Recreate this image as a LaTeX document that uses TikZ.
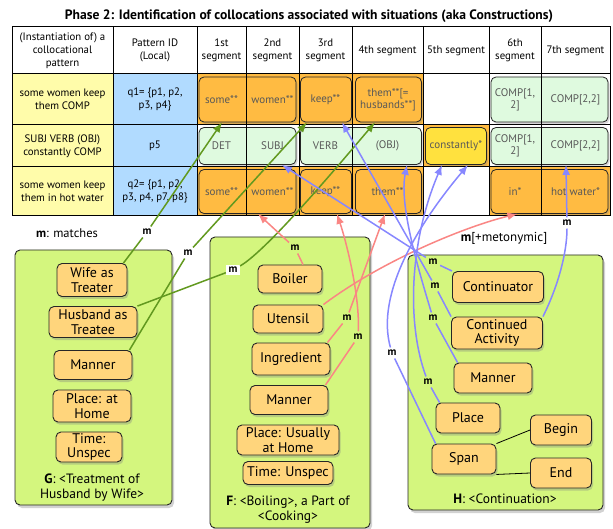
\documentclass[tikz,border=0pt]{standalone}
\usepackage{fontspec}
\setmainfont{PT Sans}
\usepackage{tikz}
\usetikzlibrary{arrows.meta,positioning,shadows}
\definecolor{panel}{HTML}{D4F67E}
\definecolor{slot}{HTML}{FFD57C}
\definecolor{seg}{HTML}{FFBB42}
\definecolor{mint}{HTML}{DFFADF}
\definecolor{lemon}{HTML}{FFFCAA}
\definecolor{sky}{HTML}{B1DBFF}
\definecolor{gold}{HTML}{FFE13E}
\definecolor{gline}{HTML}{62991F}
\definecolor{rline}{HTML}{FA8684}
\definecolor{bline}{HTML}{8787FF}
\definecolor{segtext}{HTML}{585858}
\tikzset{panelbox/.style={draw=black!85,fill=panel,rounded corners=5pt,line width=0.9pt,drop shadow={opacity=0.35,shadow xshift=2pt,shadow yshift=-3pt}},
slotbox/.style={draw=black!85,fill=slot,rounded corners=5pt,line width=0.9pt,align=center,font=\fontsize{14}{14.5}\selectfont,inner sep=1pt,drop shadow={opacity=0.35,shadow xshift=1.5pt,shadow yshift=-2.5pt}},
segbox/.style={draw=black!85,rounded corners=5pt,line width=0.8pt,inner sep=0pt,drop shadow={opacity=0.3,shadow xshift=1.5pt,shadow yshift=-2pt}},
segtxt/.style={align=center,text=segtext,font=\fontsize{11}{12}\selectfont,inner sep=1pt},
head/.style={align=center,font=\fontsize{10.8}{13}\selectfont,inner sep=1pt},
mlab/.style={font=\bfseries\fontsize{11}{12}\selectfont,fill=white,inner sep=2.5pt},
gl/.style={line width=1.5pt,draw=gline},garr/.style={gl,-{Latex[length=10pt,width=8pt]}},
rl/.style={line width=1.5pt,draw=rline},rarr/.style={rl,-{Latex[length=10pt,width=8pt]}},
bl/.style={line width=1.5pt,draw=bline},barr/.style={bl,-{Latex[length=10pt,width=8pt]}}}
\begin{document}
\begin{tikzpicture}[x=1pt,y=-1pt]
\fill[white] (0,0) rectangle (613,529);
\useasboundingbox (0,0) rectangle (613,529);
\node[font=\bfseries\fontsize{13.6}{15}\selectfont] (title) at (309,16) {Phase 2: Identification of collocations associated with situations (aka Constructions)};
\fill[lemon] (12,74) rectangle (113,216);
\fill[sky] (113,74) rectangle (197,216);
\fill[seg] (197,74) rectangle (423,125);
\fill[seg] (423,125) rectangle (489,167);
\fill[seg] (197,167) rectangle (423,216);
\fill[seg] (489,167) rectangle (610,216);
\node[segbox,fill=seg,minimum width=97pt,minimum height=45pt] (r1a) at (247.5,99.5) {};
\node[segbox,fill=seg,minimum width=51pt,minimum height=45pt] (r1b) at (326,99.5) {};
\node[segbox,fill=seg,minimum width=66pt,minimum height=45pt] (r1c) at (388.5,99.5) {};
\node[segbox,fill=mint,minimum width=117pt,minimum height=45pt] (r1d) at (549.5,99.5) {};
\node[segbox,fill=mint,minimum width=97pt,minimum height=37pt] (r2a) at (247.5,146) {};
\node[segbox,fill=mint,minimum width=121pt,minimum height=37pt] (r2b) at (361,146) {};
\node[segbox,fill=gold,minimum width=61pt,minimum height=37pt] (r2c) at (456,146) {};
\node[segbox,fill=mint,minimum width=117pt,minimum height=37pt] (r2d) at (549.5,146) {};
\node[segbox,fill=seg,minimum width=97pt,minimum height=44pt] (r3a) at (247.5,191.5) {};
\node[segbox,fill=seg,minimum width=51pt,minimum height=44pt] (r3b) at (326,191.5) {};
\node[segbox,fill=seg,minimum width=66pt,minimum height=44pt] (r3c) at (388.5,191.5) {};
\node[segbox,fill=seg,minimum width=117pt,minimum height=44pt] (r3d) at (549.5,191.5) {};
\draw[line width=1pt] (12,27) rectangle (610,216);
\draw[line width=1pt] (12,74) -- (610,74) (12,125) -- (610,125) (12,167) -- (610,167);
\draw[line width=1pt] (113,27) -- (113,216) (197,27) -- (197,216) (246,27) -- (246,216) (299,27) -- (299,216) (352,27) -- (352,216) (423,27) -- (423,216) (489,27) -- (489,216) (541,27) -- (541,216);
\node[head] (hpat) at (62.5,50.5) {(Instantiation of) a\\collocational\\pattern};
\node[head] (hid) at (155,50.5) {Pattern ID\\(Local)};
\node[head] (hs1) at (221.5,50.5) {1st\\segment};
\node[head] (hs2) at (272.5,50.5) {2nd\\segment};
\node[head] (hs3) at (325.5,50.5) {3rd\\segment};
\node[head] (hs4) at (387.5,50.5) {4th segment};
\node[head] (hs5) at (456,50.5) {5th segment};
\node[head] (hs6) at (515,50.5) {6th\\segment};
\node[head] (hs7) at (575.5,50.5) {7th segment};
\node[head] (q1pat) at (62.5,99.5) {some women keep\\them COMP};
\node[head] (q1id) at (155,99.5) {q1= \{p1, p2,\\p3, p4\}};
\node[head] (p5pat) at (62.5,146) {SUBJ VERB (OBJ)\\constantly COMP};
\node[head] (p5id) at (155,146) {p5};
\node[head] (q2pat) at (62.5,191.5) {some women keep\\them in hot water};
\node[head] (q2id) at (155,191.5) {q2= \{p1, p2,\\p3, p4, p7, p8\}};
\node[segtxt] (t11) at (221.5,99.5) {some**};
\node[segtxt] (t12) at (272.5,99.5) {women**};
\node[segtxt] (t13) at (325.5,99.5) {keep**};
\node[segtxt] (t14) at (388,99.5) {them**[=\\husbands**]};
\node[segtxt] (t16) at (515,99.5) {COMP[1,\\2]};
\node[segtxt] (t17) at (575.5,99.5) {COMP[2,2]};
\node[segtxt] (t21) at (221.5,146) {DET};
\node[segtxt] (t22) at (272.5,146) {SUBJ};
\node[segtxt] (t23) at (325.5,146) {VERB};
\node[segtxt] (t24) at (387.5,146) {(OBJ)};
\node[segtxt] (t25) at (456,146) {constantly*};
\node[segtxt] (t26) at (515,146) {COMP[1,\\2]};
\node[segtxt] (t27) at (575.5,146) {COMP[2,2]};
\node[segtxt] (t31) at (221.5,191.5) {some**};
\node[segtxt] (t32) at (272.5,191.5) {women**};
\node[segtxt] (t33) at (325.5,191.5) {keep**};
\node[segtxt] (t34) at (387.5,191.5) {them**};
\node[segtxt] (t36) at (515,191.5) {in*};
\node[segtxt] (t37) at (575.5,191.5) {hot water*};
\node[font=\fontsize{12.5}{14}\selectfont] (key) at (67,233) {\textbf{m}: matches};
\node[panelbox,minimum width=157pt,minimum height=255pt] (gframe) at (93.5,377.5) {};
\node[panelbox,minimum width=160pt,minimum height=291pt] (fframe) at (290,382.5) {};
\node[panelbox,minimum width=195pt,minimum height=255pt] (hframe) at (505.5,382.5) {};
\node[slotbox,minimum width=70pt,minimum height=33pt] (gWife) at (92,280) {Wife as\\Treater};
\node[slotbox,minimum width=88pt,minimum height=31pt] (gHusband) at (93,322) {Husband as\\Treatee};
\node[slotbox,minimum width=78pt,minimum height=29pt] (gManner) at (93,365) {Manner};
\node[slotbox,minimum width=78pt,minimum height=32pt] (gPlace) at (92,406) {Place: at\\Home};
\node[slotbox,minimum width=66pt,minimum height=30pt] (gTime) at (89,447) {Time:\\Unspec};
\node[align=center,font=\fontsize{13.5}{15}\selectfont] (gname) at (92,488) {\textbf{G}: <Treatment of\\Husband by Wife>};
\node[slotbox,minimum width=64pt,minimum height=28pt] (fBoiler) at (290,279) {Boiler};
\node[slotbox,minimum width=70pt,minimum height=28pt] (fUtensil) at (288,319) {Utensil};
\node[slotbox,minimum width=78pt,minimum height=32pt] (fIngredient) at (291,359) {Ingredient};
\node[slotbox,minimum width=78pt,minimum height=29pt] (fManner) at (289,400) {Manner};
\node[slotbox,minimum width=102pt,minimum height=30pt] (fPlace) at (288,440) {Place: Usually\\at Home};
\node[slotbox,minimum width=90pt,minimum height=23pt] (fTime) at (288,473) {Time: Unspec};
\node[align=center,font=\fontsize{13.5}{15}\selectfont] (fname) at (288,510) {\textbf{F}: <Boiling>, a Part of\\<Cooking>};
\node[slotbox,minimum width=91pt,minimum height=31pt] (hCont) at (498,287) {Continuator};
\node[slotbox,minimum width=91pt,minimum height=32pt] (hAct) at (497,333) {Continued\\Activity};
\node[slotbox,minimum width=78pt,minimum height=30pt] (hManner) at (493,378) {Manner};
\node[slotbox,minimum width=64pt,minimum height=30pt] (hPlace) at (468,418) {Place};
\node[slotbox,minimum width=64pt,minimum height=30pt] (hSpan) at (464,459) {Span};
\node[slotbox,minimum width=61pt,minimum height=30pt] (hBegin) at (561,430) {Begin};
\node[slotbox,minimum width=61pt,minimum height=30pt] (hEnd) at (561,473) {End};
\node[font=\fontsize{13.5}{15}\selectfont] (hname) at (505,499) {\textbf{H}: <Continuation>};
\draw[line width=0.8pt] (hSpan.north east) -- (hBegin.west);
\draw[line width=0.8pt] (hSpan.south east) -- (hEnd.west);
\node[mlab] (mg1) at (147,232) {m};
\node[mlab] (mg2) at (233,270) {m};
\node[mlab] (mg3) at (188,253) {m};
\node[mlab,fill=panel] (mf1) at (295,248) {m};
\node[mlab,fill=panel] (mf2) at (347,318) {m};
\node[mlab,fill=panel] (mf3) at (358,337) {m};
\node[mlab,fill=panel] (mh1) at (433,262) {m};
\node[mlab,fill=panel] (mh2) at (435,286) {m};
\node[mlab,fill=panel] (mh3) at (433,318) {m};
\node[mlab,fill=panel] (mh4) at (428,382) {m};
\node[mlab] (mh5) at (392,353) {m};
\node[mlab] (mh6) at (567,223) {m};
\node[font=\fontsize{13}{14}\selectfont,inner sep=1pt] (metlab) at (504,238) {\textbf{m}[+metonymic]};
\draw[gl] ([xshift=-4pt]gWife.north east) -- (mg1);
\draw[garr] (mg1) -- ([xshift=-25.5pt]r1a.south);
\draw[gl] (gHusband.north east) -- (mg2);
\draw[garr] (mg2) .. controls +(35,-20) and +(-30,35) .. ([xshift=-13.5pt]r1c.south);
\draw[gl] ([xshift=-3pt]gManner.north east) -- (mg3);
\draw[garr] (mg3) -- ([xshift=-19pt]r1b.south);
\draw[rl] ([xshift=13pt]fBoiler.north) -- (mf1);
\draw[rarr] (mf1) -- ([xshift=10.5pt]r3a.south);
\draw[rarr] (fUtensil.north east) .. controls +(60,-45) and +(-50,12) .. ([xshift=-32pt]r3d.south);
\draw[rl] ([xshift=-3pt]fIngredient.north east) -- (mf2);
\draw[rarr] (mf2) -- ([xshift=-3.5pt]r3c.south);
\draw[rl] ([xshift=-3pt]fManner.north east) -- (mf3);
\draw[rarr] (mf3) .. controls +(2,-40) and +(10,30) .. ([xshift=11pt]r3b.south);
\draw[bl] (hCont.north west) -- (mh1);
\draw[barr] (mh1) -- ([xshift=34.5pt]r2a.south);
\draw[bl] (hAct.north west) -- (mh2);
\draw[barr] (mh2) -- ([xshift=16pt]r1b.south);
\draw[bl] ([xshift=4pt]hManner.north west) -- (mh3);
\draw[barr] (mh3) .. controls +(-15,-50) and +(-8,40) .. ([xshift=46pt]r2b.south);
\draw[bl] ([xshift=4pt]hPlace.north west) -- (mh4);
\draw[barr] (mh4) .. controls +(-22,-60) and +(-32,75) .. ([xshift=-14pt]r2c.south);
\draw[bl] ([xshift=4pt]hSpan.north west) -- (mh5);
\draw[barr] (mh5) .. controls +(-17,-60) and +(-48,57) .. ([xshift=12pt]r2c.south);
\draw[bl] (hAct.north east) .. controls +(15,-30) and +(0,30) .. (mh6);
\draw[barr] (mh6) -- ([xshift=16.5pt]r2d.south);
\end{tikzpicture}
\end{document}
